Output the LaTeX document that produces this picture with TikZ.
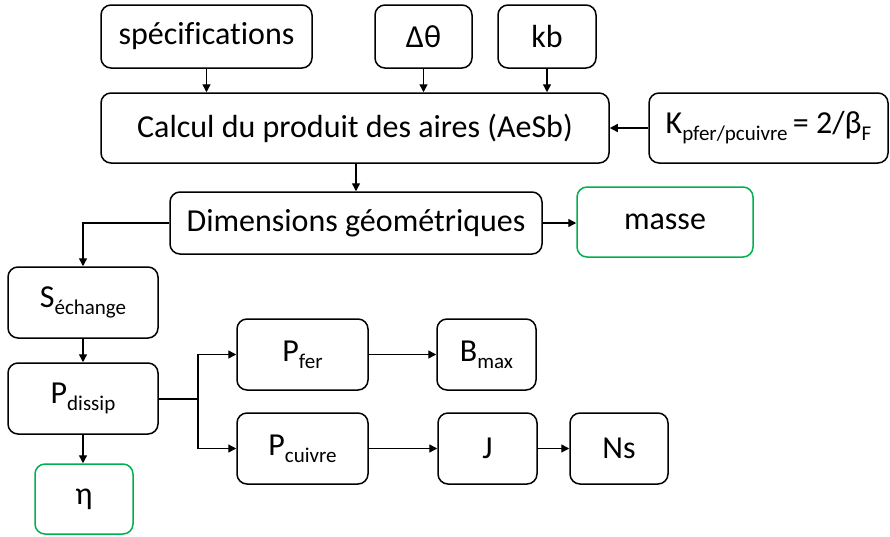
\documentclass[tikz,border=0pt]{standalone}
\usepackage{fontspec}
\setmainfont{Carlito}[Ligatures=NoCommon]
\usetikzlibrary{arrows.meta}
\definecolor{okgreen}{HTML}{00B050}
\newcommand\lowsub[1]{\raisebox{-0.22em}{\fontsize{21}{21}\selectfont #1}}
\begin{document}
\begin{tikzpicture}[x=1pt,y=-1pt,
  box/.style={draw=black, line width=1.5pt, rounded corners=10pt, inner sep=0pt,
    font=\fontsize{32}{38}\selectfont, align=center},
  gbox/.style={box, draw=okgreen},
  conn/.style={line width=1.4pt, -{Triangle[length=8pt,width=8pt]}}]
\useasboundingbox (0,0) rectangle (890,536);
\node[box, minimum width=211pt, minimum height=63pt] (spec) at (206.5,36.5) {spécifications};
\node[box, minimum width=97pt, minimum height=63pt] (dth) at (423.5,36.5) {Δθ};
\node[box, minimum width=98pt, minimum height=63pt] (kb) at (547,36.5) {kb};
\node[box, minimum width=508pt, minimum height=70pt] (calc) at (355,128) {Calcul du produit des aires (AeSb)};
\node[box, minimum width=239pt, minimum height=70pt] (kp) at (768.5,128) {K\lowsub{pfer/pcuivre}\,= 2/β\lowsub{F}};
\node[box, minimum width=372pt, minimum height=62pt] (dim) at (356,223) {Dimensions géométriques};
\node[gbox, minimum width=176pt, minimum height=70pt] (masse) at (665,222) {masse};
\node[box, minimum width=150pt, minimum height=71pt] (sech) at (83,302.5) {S\lowsub{échange}};
\node[box, minimum width=150pt, minimum height=71pt] (pdis) at (83,398.5) {P\lowsub{dissip}};
\node[gbox, minimum width=98pt, minimum height=70pt] (eta) at (84,499) {η};
\node[box, minimum width=131pt, minimum height=71pt] (pfer) at (302.5,354.5) {P\lowsub{fer}};
\node[box, minimum width=131pt, minimum height=71pt] (pcu) at (302.5,448.5) {P\lowsub{cuivre}};
\node[box, minimum width=99pt, minimum height=71pt] (bmax) at (486.5,354.5) {B\lowsub{max}};
\node[box, minimum width=99pt, minimum height=71pt] (jj) at (487.5,448.5) {J};
\node[box, minimum width=98pt, minimum height=71pt] (ns) at (619,448.5) {Ns};
\coordinate (br) at (198,399);
\draw[conn] (spec.south) -- (spec.south |- calc.north);
\draw[conn] (dth.south) -- (dth.south |- calc.north);
\draw[conn] (kb.south) -- (kb.south |- calc.north);
\draw[conn] (kp.west) -- (kp.west -| calc.east);
\draw[conn] (dim.north |- calc.south) -- (dim.north);
\draw[conn] (dim.east) -- (dim.east -| masse.west);
\draw[conn] (dim.west) -| (sech.north);
\draw[conn] (sech.south) -- (pdis.north);
\draw[conn] (pdis.south) -- (pdis.south |- eta.north);
\draw[line width=1.4pt] (pdis.east |- br) -- (br);
\draw[conn] (br) |- (pfer.west);
\draw[conn] (br) |- (pcu.west);
\draw[conn] (pfer.east) -- (bmax.west);
\draw[conn] (pcu.east) -- (pcu.east -| jj.west);
\draw[conn] (jj.east) -- (ns.west);
\end{tikzpicture}
\end{document}
